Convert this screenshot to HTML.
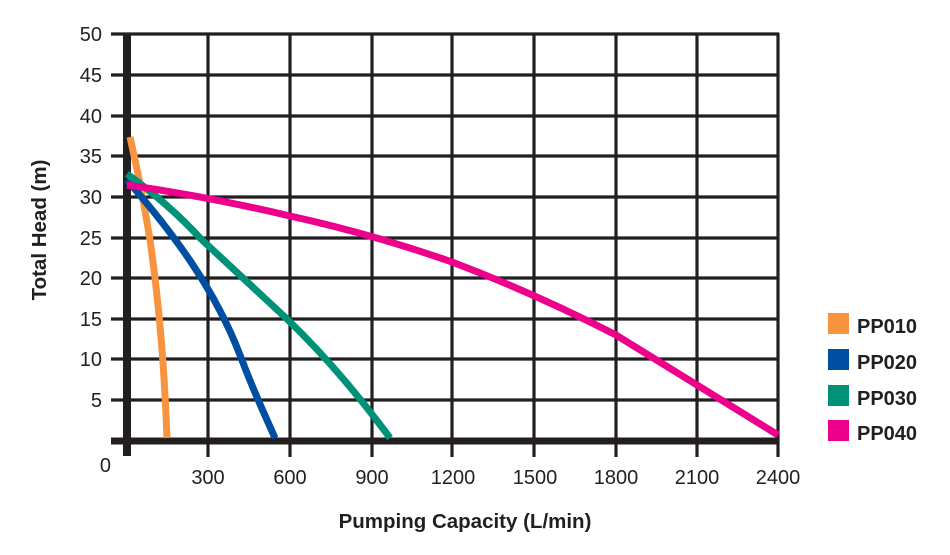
<!DOCTYPE html>
<html><head><meta charset="utf-8"><style>
html,body{margin:0;padding:0;background:#fff;}
svg{display:block;}
text{font-family:"Liberation Sans",Arial,sans-serif;fill:#231f20;}
</style></head><body>
<svg width="950" height="555" viewBox="0 0 950 555" xmlns="http://www.w3.org/2000/svg">
<g stroke="#231f20" stroke-width="3.2">
<line x1="111" y1="34" x2="779" y2="34"/>
<line x1="111" y1="75" x2="779" y2="75"/>
<line x1="111" y1="116" x2="779" y2="116"/>
<line x1="111" y1="156" x2="779" y2="156"/>
<line x1="111" y1="197" x2="779" y2="197"/>
<line x1="111" y1="238" x2="779" y2="238"/>
<line x1="111" y1="278" x2="779" y2="278"/>
<line x1="111" y1="319" x2="779" y2="319"/>
<line x1="111" y1="359" x2="779" y2="359"/>
<line x1="111" y1="400" x2="779" y2="400"/>
<line x1="208" y1="33" x2="208" y2="457"/>
<line x1="290" y1="33" x2="290" y2="457"/>
<line x1="372" y1="33" x2="372" y2="457"/>
<line x1="452" y1="33" x2="452" y2="457"/>
<line x1="534" y1="33" x2="534" y2="457"/>
<line x1="616" y1="33" x2="616" y2="457"/>
<line x1="697" y1="33" x2="697" y2="457"/>
<line x1="778" y1="33" x2="778" y2="457"/>
</g>
<line x1="127" y1="33" x2="127" y2="456" stroke="#231f20" stroke-width="8"/>
<line x1="111" y1="441" x2="779" y2="441" stroke="#231f20" stroke-width="7"/>
<g fill="none" stroke-width="7" stroke-linecap="butt">
<path d="M130 137 Q142 190 150 240 Q163 330 167 438" stroke="#f7943d"/>
<path d="M127 180 C175 235 215 290 240 355 C255 395 265 415 275 438" stroke="#004ea1"/>
<path d="M127 174 Q170 205 200 238 Q240 275 287 319 Q340 370 390 438" stroke="#009179"/>
<path d="M127 185 Q210 197 290 216 Q372 234 452 262 Q534 293 616 335 Q697 385 778 435" stroke="#ec008c"/>
</g>
<g font-size="20" text-anchor="end">
<text x="102" y="41">50</text><text x="102" y="82">45</text><text x="102" y="123">40</text>
<text x="102" y="163">35</text><text x="102" y="204">30</text><text x="102" y="245">25</text>
<text x="102" y="285">20</text><text x="102" y="326">15</text><text x="102" y="366">10</text>
<text x="102" y="407">5</text><text x="111" y="472">0</text>
</g>
<g font-size="20" text-anchor="middle">
<text x="208" y="484">300</text><text x="290" y="484">600</text><text x="372" y="484">900</text>
<text x="453" y="484">1200</text><text x="535" y="484">1500</text><text x="616" y="484">1800</text>
<text x="697" y="484">2100</text><text x="778" y="484">2400</text>
</g>
<text x="465" y="528" font-size="20.5" font-weight="bold" text-anchor="middle">Pumping Capacity (L/min)</text>
<text transform="translate(46,230) rotate(-90)" font-size="20.5" font-weight="bold" text-anchor="middle">Total Head (m)</text>
<rect x="828" y="313" width="21" height="21" fill="#f7943d"/>
<rect x="828" y="349" width="21" height="21" fill="#004ea1"/>
<rect x="828" y="385" width="21" height="21" fill="#009179"/>
<rect x="828" y="420" width="21" height="21" fill="#ec008c"/>
<g font-size="20" font-weight="bold">
<text x="857" y="333">PP010</text><text x="857" y="369">PP020</text>
<text x="857" y="405">PP030</text><text x="857" y="440">PP040</text>
</g>
</svg>
</body></html>
